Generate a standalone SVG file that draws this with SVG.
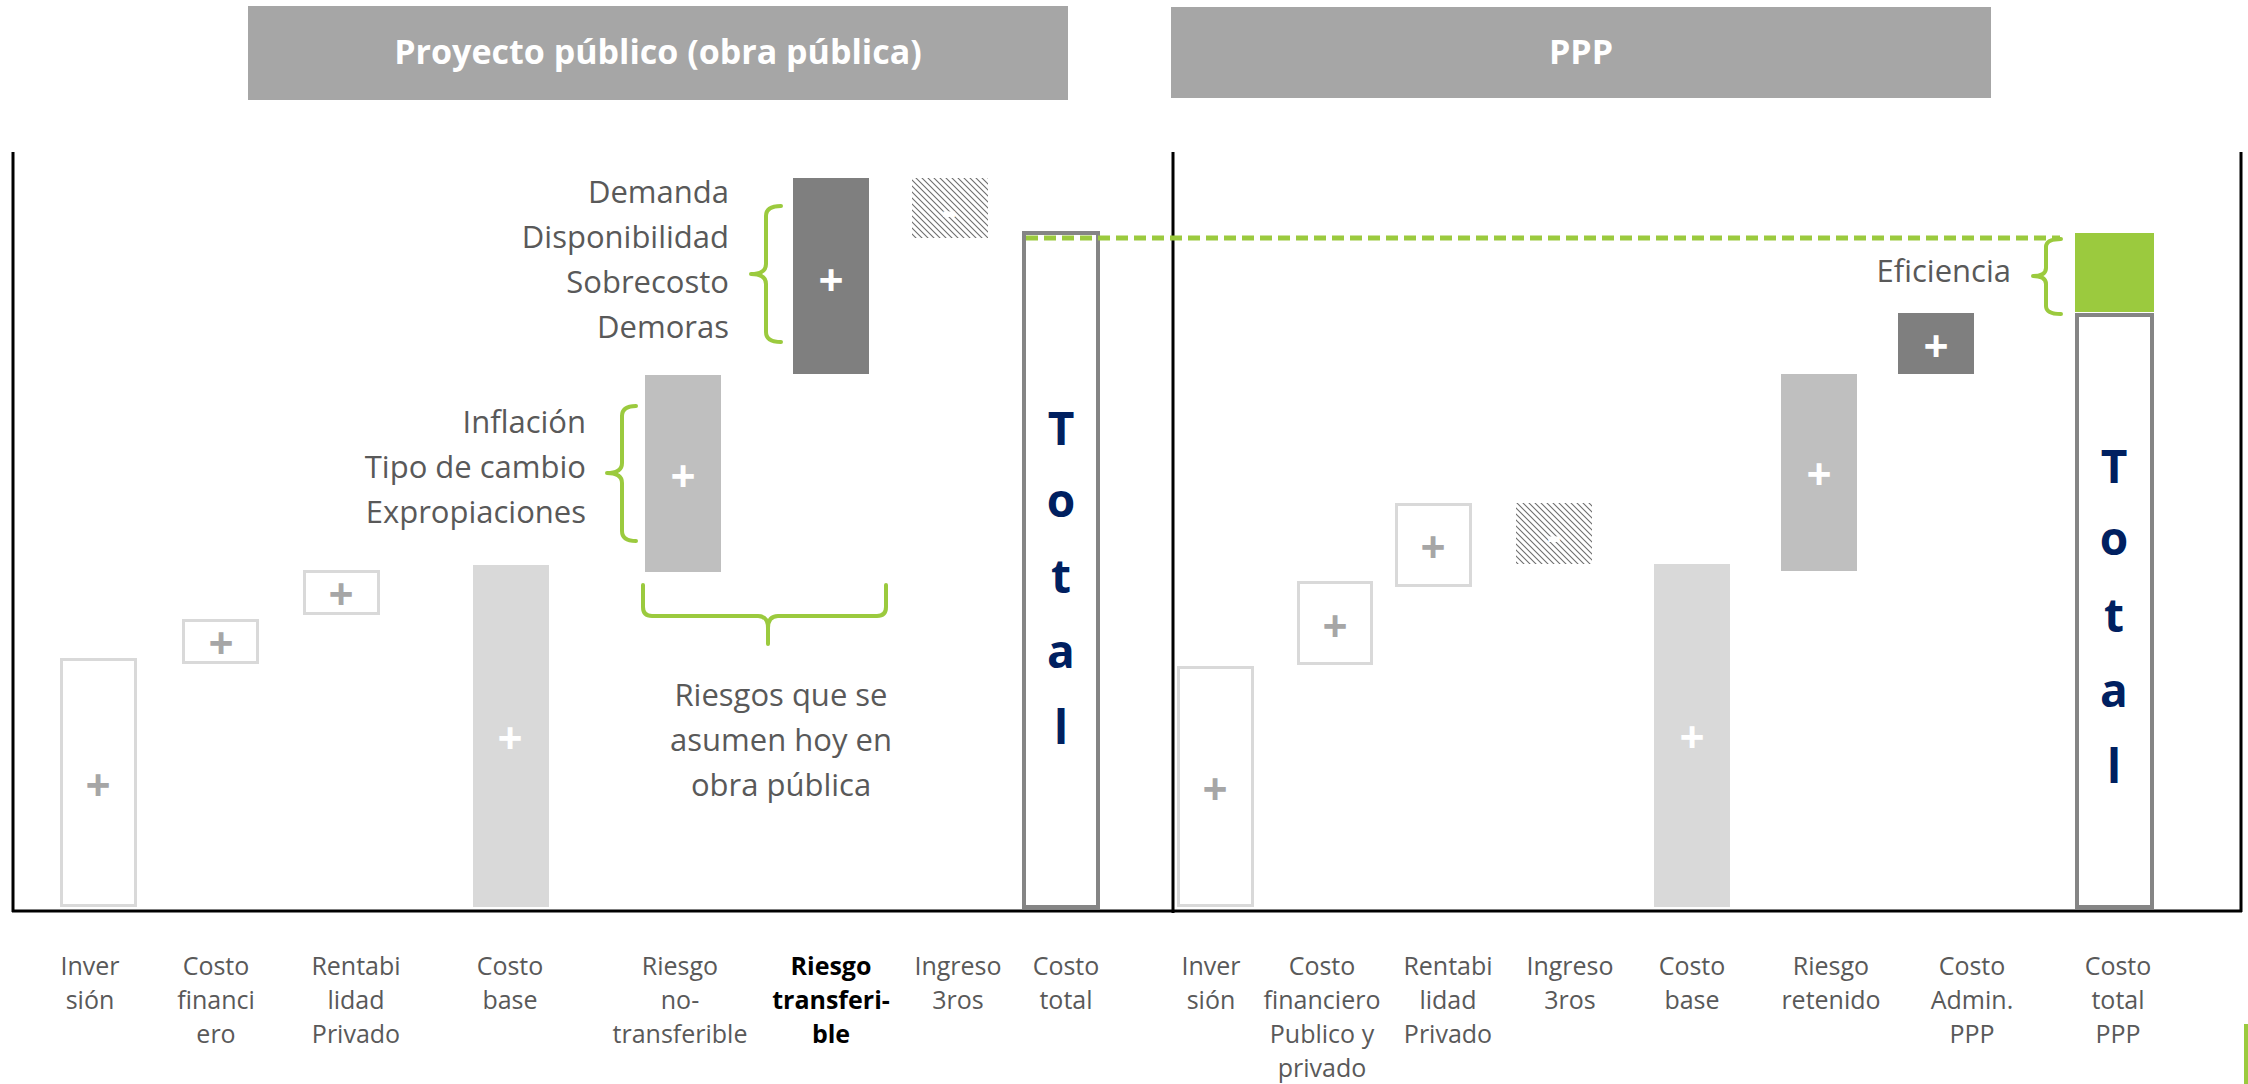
<svg xmlns="http://www.w3.org/2000/svg" width="2248" height="1084" viewBox="0 0 2248 1084">
<defs>
<pattern id="hatch" patternUnits="userSpaceOnUse" width="6" height="6">
<path d="M-1,-1 L7,7 M-1,5 L1,7 M5,-1 L7,1" stroke="#6e6e6e" stroke-width="1.1"/>
</pattern>
<style>
.title{font-family:"Open Sans",sans-serif;font-weight:bold;font-size:34px;fill:#ffffff;text-anchor:middle}
.lbl{font-family:"Open Sans",sans-serif;font-size:31px;fill:#595959}
.ax{font-family:"Open Sans",sans-serif;font-size:25px;fill:#595959;text-anchor:middle}
.axb{font-family:"Open Sans",sans-serif;font-size:25px;fill:#000000;font-weight:bold;text-anchor:middle}
.plus{font-family:"Open Sans",sans-serif;font-weight:bold;font-size:44px;text-anchor:middle}
.pw{fill:#ffffff}
.pg{fill:#a6a6a6}
.tot{font-family:"Open Sans",sans-serif;font-weight:bold;font-size:46px;fill:#002060;text-anchor:middle}
.ob{fill:#ffffff;stroke:#d9d9d9;stroke-width:3}
.tb{fill:#ffffff;stroke:#858585;stroke-width:4}
.brace{fill:none;stroke:#9bca3e;stroke-width:4;stroke-linecap:round;stroke-linejoin:round}
.frame{stroke:#000000;stroke-width:3;fill:none}
.minus{fill:#ffffff}
</style>
</defs>
<rect width="2248" height="1084" fill="#ffffff"/>

<g id="title-publico">
<rect x="248" y="6" width="820" height="94" fill="#a6a6a6"/>
<text class="title" x="658" y="64">Proyecto público (obra pública)</text>
</g>
<g id="title-ppp">
<rect x="1171" y="7" width="820" height="91" fill="#a6a6a6"/>
<text class="title" x="1581" y="64">PPP</text>
</g>

<g id="frame">
<line class="frame" x1="13" y1="152" x2="13" y2="912"/>
<line class="frame" x1="1173" y1="152" x2="1173" y2="913"/>
<line class="frame" x1="2241" y1="152" x2="2241" y2="912"/>
<line class="frame" x1="12" y1="911" x2="2242" y2="911"/>
</g>

<!-- Left panel -->
<g id="pub-inversion">
<rect class="ob" x="61.5" y="659.5" width="74" height="246"/>
<text class="plus pg" x="98" y="801">+</text>
</g>
<g id="pub-costo-financiero">
<rect class="ob" x="183.5" y="620.5" width="74" height="42"/>
<text class="plus pg" x="221" y="659">+</text>
</g>
<g id="pub-rentabilidad">
<rect class="ob" x="304.5" y="571.5" width="74" height="42"/>
<text class="plus pg" x="341" y="610">+</text>
</g>
<g id="pub-costo-base">
<rect x="473" y="565" width="76" height="342" fill="#d9d9d9"/>
<text class="plus pw" x="510" y="754">+</text>
</g>
<g id="pub-riesgo-no-transferible">
<rect x="645" y="375" width="76" height="197" fill="#bfbfbf"/>
<text class="plus pw" x="683" y="492">+</text>
</g>
<g id="pub-riesgo-transferible">
<rect x="793" y="178" width="76" height="196" fill="#7f7f7f"/>
<text class="plus pw" x="831" y="296">+</text>
</g>
<g id="pub-ingreso-3ros">
<rect x="912" y="178" width="76" height="60" fill="url(#hatch)"/>
<text class="plus minus" x="949" y="226" font-size="36">-</text>
</g>
<g id="pub-costo-total">
<rect class="tb" x="1024" y="233" width="74" height="674"/>
<text class="tot" x="1061" y="445">T</text>
<text class="tot" x="1061" y="517">o</text>
<text class="tot" x="1061" y="593">t</text>
<text class="tot" x="1061" y="668">a</text>
<text class="tot" x="1061" y="744">l</text>
</g>

<g id="risk-labels-transferible">
<text class="lbl" x="729" y="203" text-anchor="end">Demanda</text>
<text class="lbl" x="729" y="248" text-anchor="end">Disponibilidad</text>
<text class="lbl" x="729" y="293" text-anchor="end">Sobrecosto</text>
<text class="lbl" x="729" y="338" text-anchor="end">Demoras</text>
</g>
<g id="risk-labels-no-transferible">
<text class="lbl" x="586" y="433" text-anchor="end">Inflación</text>
<text class="lbl" x="586" y="478" text-anchor="end">Tipo de cambio</text>
<text class="lbl" x="586" y="523" text-anchor="end">Expropiaciones</text>
</g>
<g id="risk-note">
<text class="lbl" x="781" y="706" text-anchor="middle">Riesgos que se</text>
<text class="lbl" x="781" y="751" text-anchor="middle">asumen hoy en</text>
<text class="lbl" x="781" y="796" text-anchor="middle">obra pública</text>
</g>

<!-- Right panel -->
<g id="ppp-inversion">
<rect class="ob" x="1178.5" y="667.5" width="74" height="238"/>
<text class="plus pg" x="1215" y="805">+</text>
</g>
<g id="ppp-costo-financiero">
<rect class="ob" x="1298.5" y="582.5" width="73" height="81"/>
<text class="plus pg" x="1335" y="642">+</text>
</g>
<g id="ppp-rentabilidad">
<rect class="ob" x="1396.5" y="504.5" width="74" height="81"/>
<text class="plus pg" x="1433" y="563">+</text>
</g>
<g id="ppp-ingreso-3ros">
<rect x="1516" y="503" width="76" height="61" fill="url(#hatch)"/>
<text class="plus minus" x="1554" y="551" font-size="36">-</text>
</g>
<g id="ppp-costo-base">
<rect x="1654" y="564" width="76" height="343" fill="#d9d9d9"/>
<text class="plus pw" x="1692" y="753">+</text>
</g>
<g id="ppp-riesgo-retenido">
<rect x="1781" y="374" width="76" height="197" fill="#bfbfbf"/>
<text class="plus pw" x="1819" y="490">+</text>
</g>
<g id="ppp-costo-admin">
<rect x="1898" y="313" width="76" height="61" fill="#7f7f7f"/>
<text class="plus pw" x="1936" y="362">+</text>
</g>
<g id="ppp-eficiencia">
<rect x="2075" y="233" width="79" height="79" fill="#9bca3e"/>
<text class="lbl" x="2011" y="282" text-anchor="end">Eficiencia</text>
</g>
<g id="ppp-costo-total">
<rect class="tb" x="2077" y="315" width="75" height="592"/>
<text class="tot" x="2114" y="483">T</text>
<text class="tot" x="2114" y="555">o</text>
<text class="tot" x="2114" y="632">t</text>
<text class="tot" x="2114" y="707">a</text>
<text class="tot" x="2114" y="783">l</text>
</g>

<g id="connectors">
<line x1="1026" y1="238" x2="2060" y2="238" stroke="#9bca3e" stroke-width="5" stroke-dasharray="12 6"/>
<path class="brace" d="M781,206 Q766,206 766,216 L766,264 Q766,274 751,274 Q766,274 766,284 L766,332 Q766,342 781,342"/>
<path class="brace" d="M636,406 Q622,406 622,416 L622,463 Q622,473 607,473 Q622,473 622,483 L622,531 Q622,541 636,541"/>
<path class="brace" d="M643,585 L643,607 Q643,616 652,616 L758,616 Q768,616 768,628 L768,644 M768,628 Q768,616 778,616 L877,616 Q886,616 886,607 L886,585"/>
<path class="brace" d="M2061,239 Q2046,239 2046,247 L2046,268 Q2046,276 2033,276 Q2046,276 2046,284 L2046,306 Q2046,314 2061,314"/>
</g>

<g id="axis-labels-publico">
<text class="ax" x="90" y="975">Inver</text>
<text class="ax" x="90" y="1009">sión</text>
<text class="ax" x="216" y="975">Costo</text>
<text class="ax" x="216" y="1009">financi</text>
<text class="ax" x="216" y="1043">ero</text>
<text class="ax" x="356" y="975">Rentabi</text>
<text class="ax" x="356" y="1009">lidad</text>
<text class="ax" x="356" y="1043">Privado</text>
<text class="ax" x="510" y="975">Costo</text>
<text class="ax" x="510" y="1009">base</text>
<text class="ax" x="680" y="975">Riesgo</text>
<text class="ax" x="680" y="1009">no-</text>
<text class="ax" x="680" y="1043">transferible</text>
<text class="axb" x="831" y="975">Riesgo</text>
<text class="axb" x="831" y="1009">transferi-</text>
<text class="axb" x="831" y="1043">ble</text>
<text class="ax" x="958" y="975">Ingreso</text>
<text class="ax" x="958" y="1009">3ros</text>
<text class="ax" x="1066" y="975">Costo</text>
<text class="ax" x="1066" y="1009">total</text>
</g>
<g id="axis-labels-ppp">
<text class="ax" x="1211" y="975">Inver</text>
<text class="ax" x="1211" y="1009">sión</text>
<text class="ax" x="1322" y="975">Costo</text>
<text class="ax" x="1322" y="1009">financiero</text>
<text class="ax" x="1322" y="1043">Publico y</text>
<text class="ax" x="1322" y="1077">privado</text>
<text class="ax" x="1448" y="975">Rentabi</text>
<text class="ax" x="1448" y="1009">lidad</text>
<text class="ax" x="1448" y="1043">Privado</text>
<text class="ax" x="1570" y="975">Ingreso</text>
<text class="ax" x="1570" y="1009">3ros</text>
<text class="ax" x="1692" y="975">Costo</text>
<text class="ax" x="1692" y="1009">base</text>
<text class="ax" x="1831" y="975">Riesgo</text>
<text class="ax" x="1831" y="1009">retenido</text>
<text class="ax" x="1972" y="975">Costo</text>
<text class="ax" x="1972" y="1009">Admin.</text>
<text class="ax" x="1972" y="1043">PPP</text>
<text class="ax" x="2118" y="975">Costo</text>
<text class="ax" x="2118" y="1009">total</text>
<text class="ax" x="2118" y="1043">PPP</text>
</g>
<rect id="edge-mark" x="2244" y="1024" width="4" height="60" fill="#9bca3e"/>
</svg>
